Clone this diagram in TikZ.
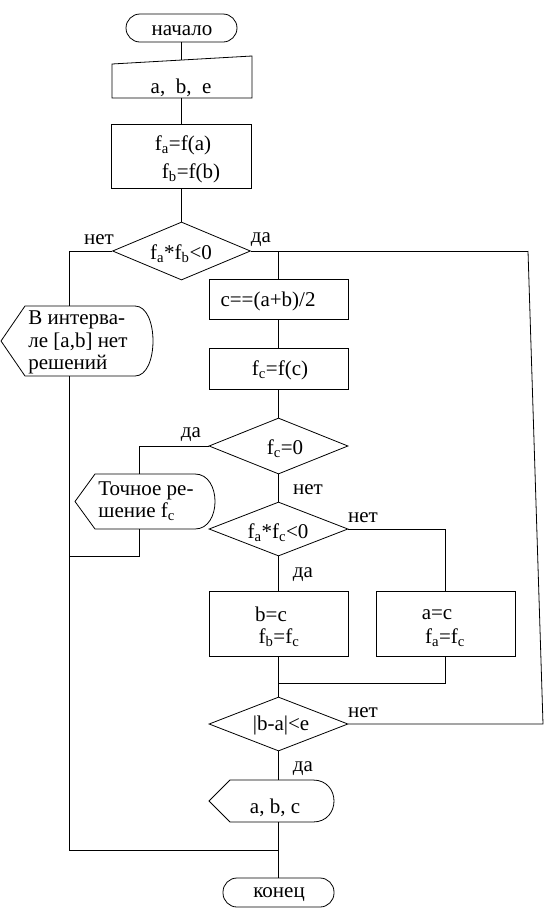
\documentclass[tikz,border=0pt]{standalone}
\usepackage{fontspec}
\setmainfont{Liberation Serif}
\usetikzlibrary{shapes.geometric}
\newcommand{\sbs}[1]{\textsubscript{#1}}
\begin{document}
\begin{tikzpicture}[x=1pt,y=-1pt, line width=0.8pt,
  box/.style={draw, rectangle, inner sep=0pt},
  term/.style={draw, rectangle, rounded corners=14pt, inner sep=0pt},
  dia/.style={draw, diamond, inner sep=0pt},
  txt/.style={inner sep=0pt, yshift=-2.5pt, font=\fontsize{21}{22.5}\selectfont},
  lbl/.style={inner sep=0pt, yshift=-2.5pt, font=\fontsize{21}{22.5}\selectfont}]
\useasboundingbox (0,0) rectangle (544,919);

% terminators
\node[term, minimum width=111, minimum height=28] (n1) at (181.5,28) {};
\node[txt] (t1) at (182,28) {начало};
\node[term, minimum width=111, minimum height=29] (n2) at (278.5,892.5) {};
\node[txt] (t2) at (279,892) {конец};

% manual input
\draw (112,64) -- (252,56) -- (252,98) -- (112,98) -- cycle;
\coordinate (inT) at (181.5,60);
\coordinate (inB) at (181.5,98);
\node[txt] (tin) at (181,85) {a, \ b, \ e};

% boxes
\node[box, minimum width=140, minimum height=64] (b1) at (181.5,156) {};
\node[txt] (tb1a) at (183,143) {f\sbs{a}=f(a)};
\node[txt] (tb1b) at (191,171) {f\sbs{b}=f(b)};

\node[box, minimum width=139, minimum height=40] (b2) at (278.5,299) {};
\node[txt] (tb2) at (268,299) {c==(a+b)/2};

\node[box, minimum width=139, minimum height=41] (b3) at (278.5,368.5) {};
\node[txt] (tb3) at (280,368) {f\sbs{c}=f(c)};

\node[box, minimum width=139, minimum height=65] (b4) at (278.5,623.5) {};
\node[txt] (tb4a) at (271,612) {b=c};
\node[txt] (tb4b) at (279,635) {f\sbs{b}=f\sbs{c}};

\node[box, minimum width=139, minimum height=65] (b5) at (445.5,623.5) {};
\node[txt] (tb5a) at (437,612) {a=c};
\node[txt] (tb5b) at (445,635) {f\sbs{a}=f\sbs{c}};

% diamonds
\node[dia, minimum width=138, minimum height=58] (d1) at (181.5,251) {};
\node[txt] (td1) at (181,251) {f\sbs{a}*f\sbs{b}<0};
\node[dia, minimum width=139, minimum height=56] (d2) at (278.5,446) {};
\node[txt] (td2) at (285,446) {f\sbs{c}=0};
\node[dia, minimum width=139, minimum height=54] (d3) at (278.5,529) {};
\node[txt] (td3) at (278,530) {f\sbs{a}*f\sbs{c}<0};
\node[dia, minimum width=139, minimum height=54] (d4) at (278.5,724) {};
\node[txt] (td4) at (281,723) {|b-a|<e};

% displays
\draw (25,306) -- (135,306) .. controls (159,306) and (159,376) .. (135,376)
      -- (25,376) -- (1,341) -- cycle;
\node[txt, align=left, anchor=west] (tp1) at (28,340) {В интерва-\\ле [a,b] нет\\решений};
\coordinate (p1t) at (69,306);
\coordinate (p1b) at (69,376);

\draw (95,474) -- (195,474) .. controls (221.7,474) and (221.7,529) .. (195,529)
      -- (95,529) -- (75,501.5) -- cycle;
\node[txt, align=left, anchor=west] (tp2) at (98,498.5) {Точное ре-\\шение f\sbs{c}};
\coordinate (p2t) at (139,474);
\coordinate (p2b) at (139,529);

\draw (230,780) -- (313,780) .. controls (341,780) and (341,822) .. (313,822)
      -- (230,822) -- (209,801) -- cycle;
\node[txt] (tp3) at (275,805) {a, b, c};
\coordinate (p3t) at (278.5,780);
\coordinate (p3b) at (278.5,822);

% junction coordinates
\coordinate (jL1) at (69,251);
\coordinate (jR1) at (528,251);
\coordinate (jC1) at (278.5,251);
\coordinate (jLb) at (69,850);
\coordinate (jCb) at (278.5,850);
\coordinate (jT1) at (139,446);
\coordinate (jT2) at (139,556);
\coordinate (jT3) at (69,556);
\coordinate (jA1) at (445.5,529);
\coordinate (jA2) at (445.5,683);
\coordinate (jA3) at (278.5,683);
\coordinate (jR2) at (543,724);

% connectors
\draw (n1.south) -- (inT);
\draw (inB) -- (b1.north);
\draw (b1.south) -- (d1.north);
\draw (d1.west) -- (jL1) -- (p1t);
\draw (p1b) -- (jLb) -- (jCb);
\draw (d1.east) -- (jR1);
\draw (jC1) -- (b2.north);
\draw (b2.south) -- (b3.north);
\draw (b3.south) -- (d2.north);
\draw (d2.west) -- (jT1) -- (p2t);
\draw (p2b) -- (jT2) -- (jT3);
\draw (d2.south) -- (d3.north);
\draw (d3.south) -- (b4.north);
\draw (d3.east) -- (jA1) -- (b5.north);
\draw (b4.south) -- (d4.north);
\draw (b5.south) -- (jA2) -- (jA3);
\draw (d4.east) -- (jR2) -- (jR1);
\draw (d4.south) -- (p3t);
\draw (p3b) -- (n2.north);

% labels
\node[lbl] (l1) at (99,237) {нет};
\node[lbl] (l2) at (261,237) {да};
\node[lbl] (l3) at (191,432) {да};
\node[lbl] (l4) at (308,487) {нет};
\node[lbl] (l5) at (363,515) {нет};
\node[lbl] (l6) at (303,572) {да};
\node[lbl] (l7) at (363,710) {нет};
\node[lbl] (l8) at (303,766) {да};
\end{tikzpicture}
\end{document}
